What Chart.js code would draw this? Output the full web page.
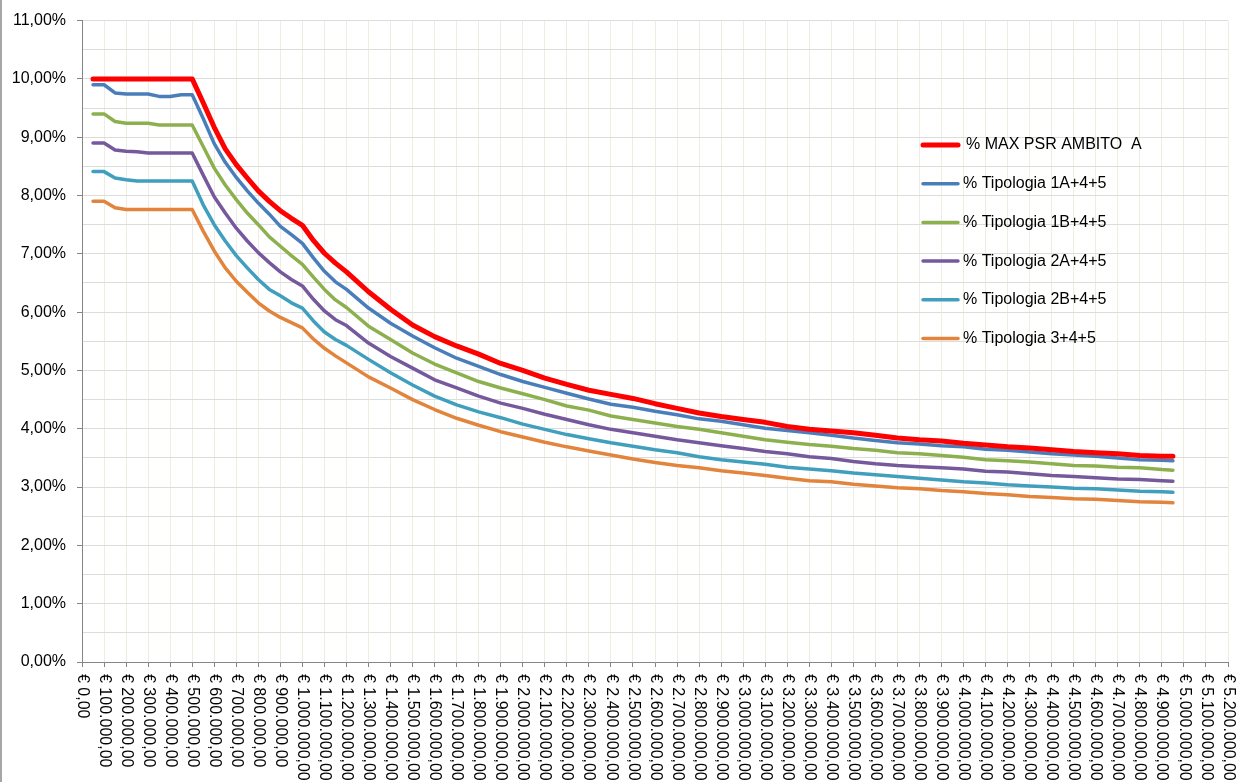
<!DOCTYPE html>
<html>
<head>
<meta charset="utf-8">
<title>% PSR</title>
<script src="https://cdn.jsdelivr.net/npm/chart.js@4.4.1/dist/chart.umd.min.js"></script>
<style>
  html, body { margin: 0; padding: 0; background: #ffffff; overflow: hidden; }
  #wrap { width: 1238px; height: 782px; }
</style>
</head>
<body>
<div id="wrap"><canvas id="myChart" width="1238" height="782"></canvas></div>
<script>
// importo lavori (euro)
var importi = [
  50000, 100000, 150000, 200000, 250000, 300000, 350000, 400000, 450000, 500000,
  550000, 600000, 650000, 700000, 750000, 800000, 850000, 900000, 950000, 1000000,
  1050000, 1100000, 1150000, 1200000,
  1300000, 1400000, 1500000, 1600000, 1700000, 1800000, 1900000, 2000000, 2100000, 2200000,
  2300000, 2400000, 2500000, 2600000, 2700000, 2800000, 2900000, 3000000, 3100000, 3200000,
  3300000, 3400000, 3500000, 3600000, 3700000, 3800000, 3900000, 4000000, 4100000, 4200000,
  4300000, 4400000, 4500000, 4600000, 4700000, 4800000, 4900000, 4950000
];

// valori in %
var maxPsrAmbitoA = [
  10, 10, 10, 10, 10, 10, 10, 10, 10, 10,
  9.59, 9.17, 8.80, 8.53, 8.30, 8.08, 7.90, 7.74, 7.61, 7.49,
  7.23, 7.01, 6.84, 6.69,
  6.35, 6.05, 5.78, 5.58, 5.42, 5.28, 5.12, 5.00, 4.87, 4.76,
  4.66, 4.59, 4.52, 4.43, 4.35, 4.27, 4.21, 4.16, 4.11, 4.04,
  3.99, 3.96, 3.93, 3.89, 3.84, 3.81, 3.79, 3.75, 3.72, 3.69,
  3.67, 3.64, 3.61, 3.59, 3.57, 3.54, 3.53, 3.53
];
var tipologia1A = [
  9.90, 9.90, 9.76, 9.74, 9.74, 9.74, 9.70, 9.70, 9.73, 9.73,
  9.32, 8.89, 8.57, 8.31, 8.08, 7.87, 7.68, 7.47, 7.33, 7.18,
  6.93, 6.70, 6.52, 6.39,
  6.07, 5.81, 5.59, 5.39, 5.21, 5.07, 4.93, 4.81, 4.71, 4.61,
  4.51, 4.42, 4.37, 4.30, 4.24, 4.17, 4.13, 4.07, 4.01, 3.97,
  3.93, 3.89, 3.84, 3.80, 3.76, 3.74, 3.71, 3.69, 3.65, 3.63,
  3.60, 3.57, 3.55, 3.53, 3.50, 3.47, 3.46, 3.45
];
var tipologia1B = [
  9.40, 9.40, 9.27, 9.24, 9.24, 9.24, 9.21, 9.21, 9.21, 9.21,
  8.84, 8.47, 8.18, 7.93, 7.70, 7.50, 7.29, 7.13, 6.97, 6.82,
  6.60, 6.39, 6.21, 6.08,
  5.76, 5.53, 5.30, 5.11, 4.96, 4.81, 4.70, 4.60, 4.50, 4.39,
  4.32, 4.22, 4.16, 4.10, 4.04, 3.99, 3.93, 3.87, 3.81, 3.77,
  3.73, 3.70, 3.66, 3.63, 3.59, 3.57, 3.54, 3.51, 3.47, 3.45,
  3.43, 3.40, 3.37, 3.36, 3.34, 3.33, 3.30, 3.29
];
var tipologia2A = [
  8.90, 8.90, 8.78, 8.76, 8.75, 8.73, 8.73, 8.73, 8.73, 8.73,
  8.35, 7.98, 7.70, 7.44, 7.22, 7.02, 6.85, 6.69, 6.56, 6.45,
  6.22, 6.02, 5.87, 5.77,
  5.47, 5.24, 5.04, 4.84, 4.70, 4.56, 4.44, 4.35, 4.25, 4.16,
  4.07, 3.99, 3.93, 3.87, 3.81, 3.76, 3.71, 3.66, 3.61, 3.57,
  3.52, 3.49, 3.44, 3.40, 3.37, 3.35, 3.33, 3.31, 3.27, 3.26,
  3.23, 3.20, 3.18, 3.16, 3.14, 3.13, 3.11, 3.10
];
var tipologia2B = [
  8.41, 8.41, 8.30, 8.27, 8.25, 8.25, 8.25, 8.25, 8.25, 8.25,
  7.84, 7.50, 7.22, 6.97, 6.76, 6.56, 6.39, 6.28, 6.16, 6.07,
  5.85, 5.66, 5.53, 5.43,
  5.19, 4.96, 4.75, 4.56, 4.41, 4.29, 4.19, 4.08, 3.99, 3.90,
  3.83, 3.76, 3.70, 3.64, 3.59, 3.52, 3.47, 3.43, 3.39, 3.34,
  3.31, 3.28, 3.24, 3.21, 3.18, 3.15, 3.12, 3.09, 3.07, 3.04,
  3.02, 3.00, 2.98, 2.97, 2.95, 2.93, 2.92, 2.91
];
var tipologia3 = [
  7.90, 7.90, 7.79, 7.76, 7.76, 7.76, 7.76, 7.76, 7.76, 7.76,
  7.39, 7.05, 6.76, 6.53, 6.34, 6.16, 6.02, 5.91, 5.82, 5.73,
  5.54, 5.38, 5.25, 5.13,
  4.89, 4.70, 4.50, 4.33, 4.18, 4.06, 3.95, 3.86, 3.77, 3.69,
  3.62, 3.55, 3.48, 3.42, 3.37, 3.33, 3.28, 3.24, 3.20, 3.15,
  3.11, 3.09, 3.05, 3.02, 2.99, 2.97, 2.94, 2.92, 2.89, 2.87,
  2.84, 2.82, 2.80, 2.79, 2.77, 2.75, 2.74, 2.73
];

var etichette = [
  '% MAX PSR AMBITO  A',
  '% Tipologia 1A+4+5',
  '% Tipologia 1B+4+5',
  '% Tipologia 2A+4+5',
  '% Tipologia 2B+4+5',
  '% Tipologia 3+4+5'
];
var serie = [maxPsrAmbitoA, tipologia1A, tipologia1B, tipologia2A, tipologia2B, tipologia3];
var colori = ['#ff0000', '#4a7ebb', '#8db04f', '#76599c', '#409fbd', '#e2843c'];
var spessori = [5, 3.5, 3.5, 3.5, 3.5, 3.5];

var FONT = '"Liberation Sans", Arial, sans-serif';

function punti(valori) {
  return importi.map(function (x, i) {
    return { x: x, y: valori[i] };
  });
}

var datasets = serie.map(function (valori, i) {
  return {
    label: etichette[i],
    data: punti(valori),
    borderColor: colori[i],
    backgroundColor: colori[i],
    borderWidth: spessori[i],
    pointRadius: 0,
    tension: 0,
    borderCapStyle: 'round',
    borderJoinStyle: 'round',
    fill: false
  };
});

function euro(v) {
  var s = Math.round(v).toString().replace(/\B(?=(\d{3})+(?!\d))/g, '.');
  return '€ ' + s + ',00';
}

// etichette asse x ruotate di 90 gradi (lettura dall'alto in basso) + legenda + bordo
var disegnaExtra = {
  id: 'disegnaExtra',
  beforeDraw: function (chart) {
    var ctx = chart.ctx;
    ctx.save();
    ctx.fillStyle = '#ffffff';
    ctx.fillRect(0, 0, chart.width, chart.height);
    ctx.restore();
  },
  afterDraw: function (chart) {
    var ctx = chart.ctx;
    var xs = chart.scales.x;
    var area = chart.chartArea;

    ctx.save();
    ctx.font = '16px ' + FONT;
    ctx.fillStyle = '#000000';
    ctx.textAlign = 'left';
    ctx.textBaseline = 'middle';
    xs.ticks.forEach(function (t) {
      var px = xs.getPixelForValue(t.value);
      ctx.save();
      ctx.translate(px, area.bottom + 12);
      ctx.rotate(Math.PI / 2);
      ctx.fillText(euro(t.value), 0, 0);
      ctx.restore();
    });
    ctx.restore();

    // legenda
    ctx.save();
    ctx.font = '16px ' + FONT;
    ctx.textBaseline = 'middle';
    ctx.lineCap = 'round';
    chart.data.datasets.forEach(function (ds, i) {
      var y = 145 + i * 38.7;
      ctx.strokeStyle = ds.borderColor;
      ctx.lineWidth = ds.borderWidth;
      ctx.beginPath();
      ctx.moveTo(923, y);
      ctx.lineTo(958, y);
      ctx.stroke();
      ctx.fillStyle = '#000000';
      ctx.fillText(ds.label, i === 0 ? 966 : 963, y);
    });
    ctx.restore();

    // bordo sinistro
    ctx.save();
    ctx.strokeStyle = '#a6a6a6';
    ctx.lineWidth = 2;
    ctx.beginPath();
    ctx.moveTo(1, 0);
    ctx.lineTo(1, chart.height);
    ctx.stroke();
    ctx.restore();
  }
};

var ctx = document.getElementById('myChart').getContext('2d');

var myChart = new Chart(ctx, {
  type: 'line',
  data: { datasets: datasets },
  options: {
    responsive: false,
    animation: false,
    devicePixelRatio: 1,
    layout: { padding: { top: 19, right: 10, left: 0, bottom: 0 } },
    plugins: {
      legend: { display: false },
      tooltip: { enabled: false }
    },
    scales: {
      x: {
        type: 'linear',
        min: 0,
        max: 5200000,
        afterFit: function (scale) { scale.height = 120; },
        ticks: { stepSize: 100000, display: false },
        grid: {
          color: '#efede2',
          lineWidth: 1,
          tickColor: '#868686',
          tickLength: 5
        },
        border: { color: '#868686', width: 1 }
      },
      y: {
        min: 0,
        max: 11,
        afterFit: function (scale) { scale.width = 82; },
        ticks: {
          stepSize: 0.5,
          autoSkip: false,
          padding: 11,
          color: '#000000',
          font: { family: FONT, size: 16 },
          callback: function (v) {
            return v % 1 === 0 ? v.toFixed(2).replace('.', ',') + '%' : '';
          }
        },
        grid: {
          color: '#dcdcdc',
          lineWidth: 1,
          tickLength: 5,
          tickColor: function (c) {
            return c.tick && c.tick.value % 1 === 0 ? '#868686' : 'rgba(0,0,0,0)';
          }
        },
        border: { color: '#868686', width: 1 }
      }
    }
  },
  plugins: [disegnaExtra]
});
</script>
</body>
</html>
